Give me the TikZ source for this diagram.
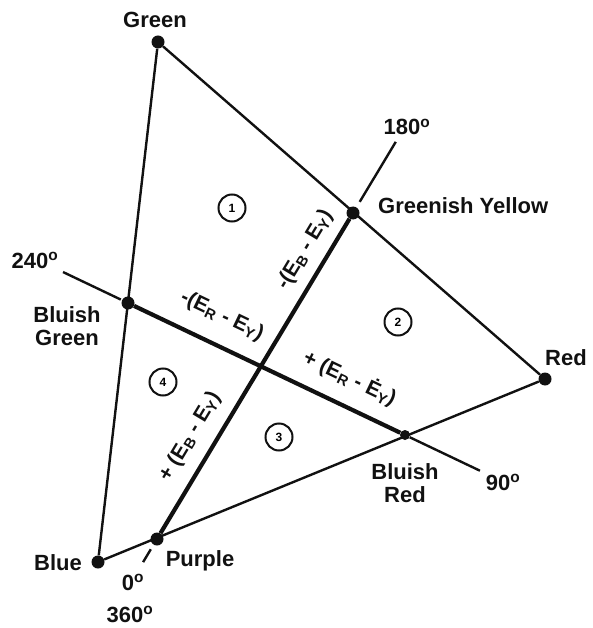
\documentclass[tikz,border=0pt]{standalone}
\usepackage{fontspec}
\setmainfont{Liberation Sans}
\usetikzlibrary{calc}
\definecolor{ink}{HTML}{111111}
\tikzset{
  huedot/.style   ={circle, fill=ink, inner sep=0pt, minimum size=13pt},
  edgeline/.style ={draw=ink, line width=2.4pt},
  axisline/.style ={draw=ink, line width=4.2pt},
  extline/.style  ={draw=ink, line width=2.4pt},
  hue/.style      ={font=\bfseries\fontsize{22}{23}\selectfont, text=ink,
                    inner sep=0pt, align=center, anchor=base},
  axislabel/.style={font=\bfseries\fontsize{21}{23}\selectfont, text=ink,
                    inner sep=0pt},
  region/.style   ={draw=ink, circle, line width=2pt, minimum size=27pt,
                    inner sep=0pt, font=\bfseries\fontsize{12}{12}\selectfont},
}

\begin{document}
\begin{tikzpicture}[x=1pt,y=-1pt]
    \useasboundingbox (0,0) rectangle (592,628);
    % ----- primaries (corners of the triangle) -----
    \node[huedot] (green)  at (158,42)  {};
    \node[huedot] (red)    at (545,379) {};
    \node[huedot] (blue)   at (98,562)  {};

    % ----- mixtures on the sides -----
    \node[huedot] (gyel)   at (353,213) {};
    \node[huedot] (bgreen) at (128,303) {};
    \node[huedot,minimum size=10pt] (bred) at (405,435) {};
    \node[huedot] (purple) at (157,539) {};

    \draw[edgeline] (green) -- (red) -- (blue) -- (green);

    % ----- colour difference axes -----
    \draw[axisline] (gyel) -- (purple);
    \draw[axisline] (bgreen) -- (bred);

    % ----- angle ticks -----
    \coordinate (t180a) at ($(gyel)!-13pt!(purple)$);
    \coordinate (t180b) at ($(gyel)!-83pt!(purple)$);
    \coordinate (t240a) at ($(bgreen)!-8pt!(bred)$);
    \coordinate (t240b) at ($(bgreen)!-72pt!(bred)$);
    \coordinate (t90)   at ($(bred)!-83pt!(bgreen)$);
    \coordinate (t0a)   at ($(purple)!-12pt!(gyel)$);
    \coordinate (t0b)   at ($(purple)!-27pt!(gyel)$);
    \draw[extline] (t180a) -- (t180b);
    \draw[extline] (t240a) -- (t240b);
    \draw[extline] (bred)  -- (t90);
    \draw[extline] (t0a)   -- (t0b);

    % ----- hue names -----
    \node[hue] (lgreen)  at (155,28)  {Green};
    \node[hue,anchor=base west] (lgyel) at (378,213) {Greenish Yellow};
    \node[hue] (lbgreen) at (67,345)  {Bluish\\Green};
    \node[hue] (lred)    at (566,365) {Red};
    \node[hue] (lbred)   at (405,502) {Bluish\\Red};
    \node[hue] (lblue)   at (58,570)  {Blue};
    \node[hue] (lpurple) at (200,566) {Purple};

    % ----- angles -----
    \node[hue] (l180) at (407,135) {180\textsuperscript{o}};
    \node[hue] (l240) at (35,268)  {240\textsuperscript{o}};
    \node[hue] (l90)  at (503,490) {90\textsuperscript{o}};
    \node[hue] (l0)   at (133,590) {0\textsuperscript{o}};
    \node[hue] (l360) at (130,622) {360\textsuperscript{o}};

    % ----- axis labels -----
    \node[axislabel,rotate=59]    (ebm) at (305,250) {-(E\textsubscript{B} - E\textsubscript{Y})};
    \node[axislabel,rotate=59]    (ebp) at (190,437) {+ (E\textsubscript{B} - E\textsubscript{Y})};
    \node[axislabel,rotate=-25.5] (erm) at (222,316) {-(E\textsubscript{R} - E\textsubscript{Y})};
    \node[axislabel,rotate=-25.5] (erp) at (350,378) {+ (E\textsubscript{R} - \.{E}\textsubscript{Y})};

    % ----- quadrants -----
    \node[region] (q1) at (232,208) {1};
    \node[region] (q2) at (398,322) {2};
    \node[region] (q3) at (279,437) {3};
    \node[region] (q4) at (163,382) {4};
  \end{tikzpicture}
\end{document}
